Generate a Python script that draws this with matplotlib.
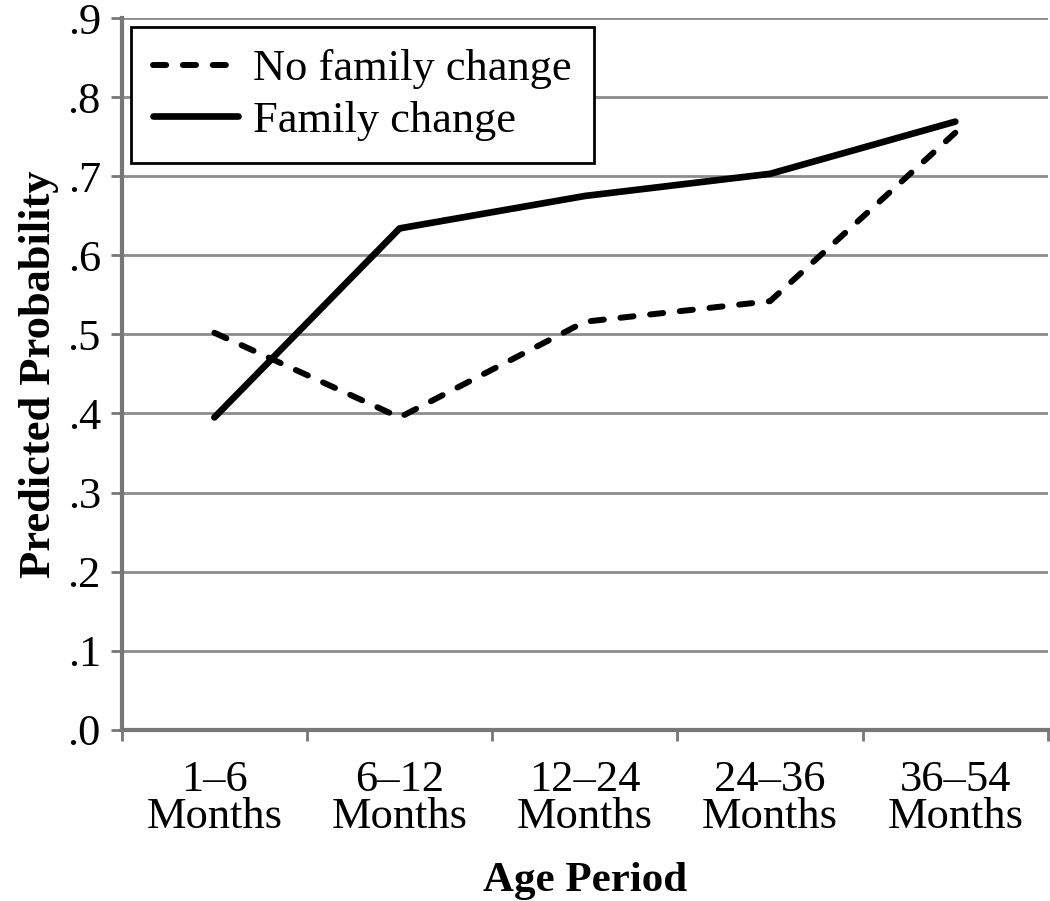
import numpy as np
import matplotlib.pyplot as plt

plt.rcParams['font.family'] = ['Liberation Serif', 'DejaVu Serif']

# Datos
periods = ["1\u20136\nMonths", "6\u201312\nMonths", "12\u201324\nMonths",
           "24\u201336\nMonths", "36\u201354\nMonths"]
no_change = [0.502, 0.395, 0.516, 0.542, 0.755]
family_change = [0.395, 0.634, 0.675, 0.703, 0.769]
y_ticks = [0.0, 0.1, 0.2, 0.3, 0.4, 0.5, 0.6, 0.7, 0.8, 0.9]
y_labels = [".0", ".1", ".2", ".3", ".4", ".5", ".6", ".7", ".8", ".9"]

fig = plt.figure(figsize=(10.5, 9.01), dpi=100)
ax = fig.add_axes([0.116, 0.19, 0.882, 0.79])

x = np.arange(len(periods))
l1, = ax.plot(x, no_change, color="black", lw=4.3, linestyle=(0, (2.2, 2.8)),
              dash_capstyle="round", solid_capstyle="round")
l2, = ax.plot(x, family_change, color="black", lw=4.8, solid_capstyle="round")

ax.set_xlim(-0.5, len(periods) - 0.5)
ax.set_ylim(0, 0.9)
ax.set_yticks(y_ticks)
ax.set_yticklabels(y_labels)
ax.set_xticks(x)
ax.set_xticklabels(periods, linespacing=0.9)
ax.set_xticks(np.arange(-0.5, len(periods)), minor=True)
ax.tick_params(axis="x", which="major", length=0, pad=22, labelsize=32)
ax.tick_params(axis="x", which="minor", length=8, width=2, color="#777777")
ax.tick_params(axis="y", length=8, width=2, color="#777777", pad=7, labelsize=32)

ax.yaxis.grid(True, color="#8c8c8c", lw=2)
ax.set_axisbelow(True)
for s in ["top", "right"]:
    ax.spines[s].set_visible(False)
for s in ["left", "bottom"]:
    ax.spines[s].set_color("#777777")
    ax.spines[s].set_linewidth(3)

ax.set_ylabel("Predicted Probability", fontsize=32, fontweight="bold", labelpad=6)
ax.set_xlabel("Age Period", fontsize=31, fontweight="bold", labelpad=18)

leg = fig.legend([l1, l2], ["No family change", "Family change"],
                 loc="upper left", bbox_to_anchor=(0.125, 0.97), borderaxespad=0,
                 fontsize=32, frameon=True, fancybox=False, edgecolor="black",
                 handlelength=1.9, handletextpad=0.35, borderpad=0.5,
                 labelspacing=0.25, framealpha=1)
leg.get_frame().set_linewidth(2)

plt.savefig("out.png", dpi=100)
